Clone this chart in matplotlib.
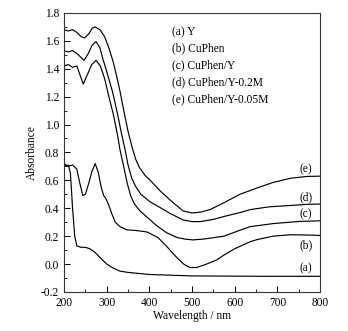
import numpy as np
import matplotlib
matplotlib.use("Agg")
import matplotlib.pyplot as plt
from matplotlib.ticker import MultipleLocator

plt.rcParams['font.family'] = ['Liberation Serif', 'DejaVu Serif']
plt.rcParams['font.size'] = 8.3

# (a) Y
wl_a = [200, 205, 210, 215, 220, 225, 230, 240, 250, 260, 270, 280, 290, 300, 310,
        330, 350, 400, 450, 500, 600, 700, 800]
abs_a = [0.72, 0.70, 0.71, 0.65, 0.40, 0.20, 0.13, 0.12, 0.12, 0.11, 0.09, 0.06, 0.03,
         0.0, -0.02, -0.05, -0.06, -0.075, -0.08, -0.085, -0.087, -0.088, -0.088]

# (b) CuPhen
wl_b = [200, 210, 220, 230, 237, 244, 250, 258, 265, 273, 280, 287, 293, 298, 305, 312,
        320, 330, 347, 370, 394, 420, 441, 460, 480, 495, 510, 530, 558, 575, 600, 636,
        652, 690, 731, 770, 800]
abs_b = [0.72, 0.70, 0.71, 0.68, 0.58, 0.49, 0.50, 0.58, 0.66, 0.72, 0.66, 0.55, 0.49,
         0.47, 0.42, 0.36, 0.30, 0.27, 0.245, 0.24, 0.23, 0.19, 0.125, 0.06, 0.0, -0.025,
         -0.025, -0.005, 0.03, 0.065, 0.11, 0.16, 0.175, 0.20, 0.21, 0.208, 0.205]

# (c) CuPhen/Y
wl_c = [200, 210, 220, 230, 238, 245, 255, 265, 275, 285, 295, 305, 315, 325, 331, 339,
        348, 356, 365, 378, 395, 415, 440, 465, 485, 502, 530, 575, 610, 636, 690, 750, 800]
abs_c = [1.42, 1.43, 1.41, 1.42, 1.35, 1.29, 1.36, 1.43, 1.46, 1.42, 1.33, 1.20, 1.08,
         0.93, 0.82, 0.71, 0.58, 0.49, 0.43, 0.38, 0.335, 0.28, 0.225, 0.19, 0.178, 0.173,
         0.18, 0.20, 0.24, 0.268, 0.29, 0.305, 0.31]

# (d) CuPhen/Y-0.2M
wl_d = [200, 210, 220, 230, 240, 247, 257, 266, 275, 284, 291, 300, 314, 325, 335, 343,
        350, 358, 367, 380, 402, 425, 450, 479, 500, 519, 550, 580, 614, 636, 680, 731,
        770, 800]
abs_d = [1.53, 1.52, 1.53, 1.51, 1.48, 1.46, 1.51, 1.57, 1.594, 1.55, 1.47, 1.38, 1.23,
         1.08, 0.93, 0.82, 0.71, 0.62, 0.56, 0.50, 0.445, 0.405, 0.36, 0.316, 0.304, 0.304,
         0.32, 0.345, 0.37, 0.39, 0.41, 0.42, 0.428, 0.43]

# (e) CuPhen/Y-0.05M
wl_e = [200, 210, 220, 230, 240, 248, 258, 266, 273, 284, 295, 305, 315, 323, 331, 340,
        350, 360, 368, 377, 390, 405, 425, 448, 479, 500, 520, 542, 575, 612, 652, 690,
        731, 770, 800]
abs_e = [1.68, 1.67, 1.68, 1.66, 1.63, 1.62, 1.65, 1.69, 1.70, 1.68, 1.63, 1.55, 1.45,
         1.35, 1.24, 1.10, 0.95, 0.83, 0.75, 0.69, 0.635, 0.59, 0.525, 0.46, 0.38, 0.366,
         0.372, 0.39, 0.44, 0.50, 0.545, 0.585, 0.615, 0.628, 0.63]

legend_lines = ['(a) Y', '(b) CuPhen', '(c) CuPhen/Y', '(d) CuPhen/Y-0.2M',
                '(e) CuPhen/Y-0.05M']
curve_tags = ['(a)', '(b)', '(c)', '(d)', '(e)']
tag_y = [-0.03, 0.137, 0.36, 0.48, 0.682]

fig = plt.figure(figsize=(3.48, 3.31), dpi=100)
ax = fig.add_axes([0.184, 0.118, 0.736, 0.843])

for wl, ab in [(wl_a, abs_a), (wl_b, abs_b), (wl_c, abs_c), (wl_d, abs_d), (wl_e, abs_e)]:
    ax.plot(wl, ab, color='black', lw=0.85)

for tag, y in zip(curve_tags, tag_y):
    ax.text(766, y, tag, ha='center', va='center')

for i, s in enumerate(legend_lines):
    ax.text(0.42, 0.932 - i * 0.06, s, transform=ax.transAxes, va='center', ha='left')

ax.set_xlim(200, 800)
ax.set_ylim(-0.2, 1.8)
ax.xaxis.set_major_locator(MultipleLocator(100))
ax.xaxis.set_minor_locator(MultipleLocator(50))
ax.yaxis.set_major_locator(MultipleLocator(0.2))
ax.yaxis.set_minor_locator(MultipleLocator(0.1))
ax.yaxis.set_major_formatter(plt.FormatStrFormatter('%.1f'))
ax.tick_params(which='both', direction='in', top=False, right=False)
ax.tick_params(which='major', length=4, width=0.7)
ax.tick_params(which='minor', length=2, width=0.6)
for sp in ax.spines.values():
    sp.set_linewidth(0.8)
    sp.set_color('#333333')

ax.set_xlabel('Wavelength / nm', labelpad=1)
ax.set_ylabel('Absorbance', labelpad=2)

fig.savefig('out.png', dpi=100)
